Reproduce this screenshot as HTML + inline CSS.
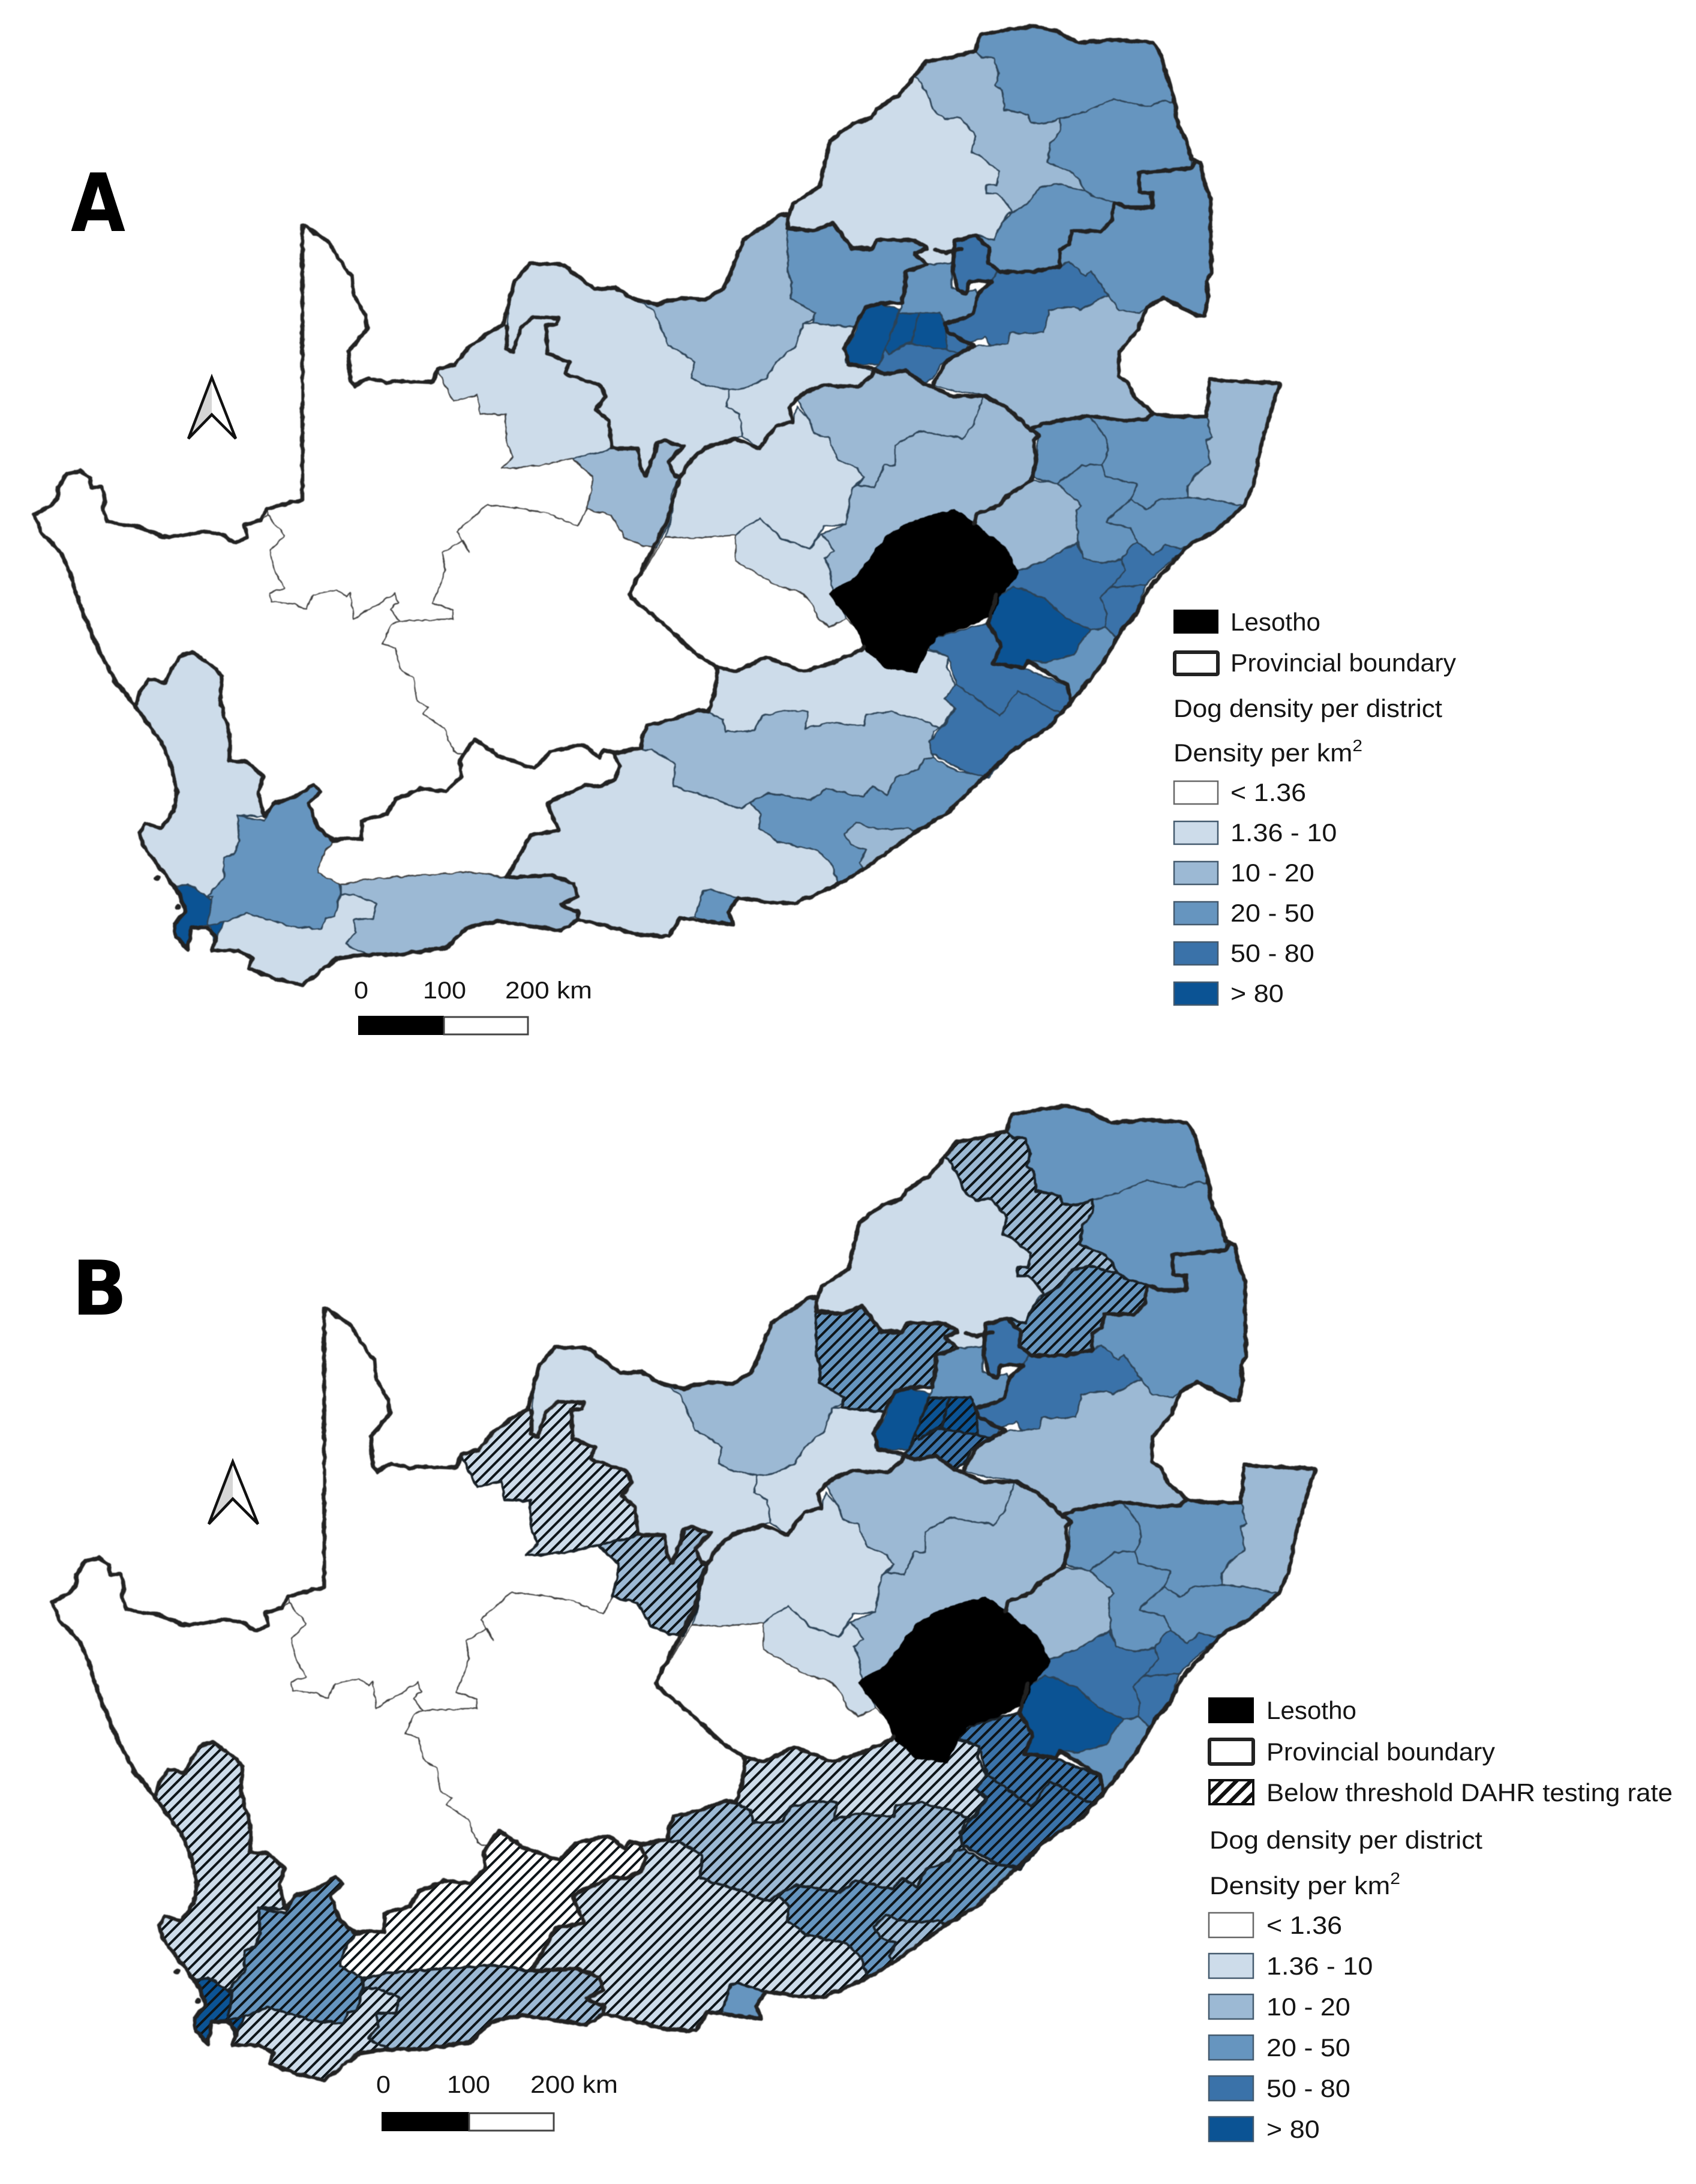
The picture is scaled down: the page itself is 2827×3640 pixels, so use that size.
<!DOCTYPE html>
<html lang="en">
<head>
<meta charset="utf-8">
<title>Dog density per district in South Africa</title>
<style>
html,body{margin:0;padding:0;background:#fff}
svg{display:block}
text{font-family:"Liberation Sans",sans-serif;fill:#151515}
</style>
</head>
<body>
<svg id="figure" xmlns="http://www.w3.org/2000/svg" width="2827" height="3640" viewBox="0 0 2827 3640">
<defs>
<filter id="wiggle" filterUnits="userSpaceOnUse" x="0" y="0" width="2827" height="1800" color-interpolation-filters="sRGB">
<feTurbulence type="fractalNoise" baseFrequency="0.075" numOctaves="2" seed="4" result="n"/>
<feDisplacementMap in="SourceGraphic" in2="n" scale="6" xChannelSelector="R" yChannelSelector="G" result="d"/>
<feGaussianBlur in="d" stdDeviation="0.8"/>
</filter>
<pattern id="hatch" patternUnits="userSpaceOnUse" width="12.8" height="12.8" patternTransform="rotate(45)">
<rect x="0" y="0" width="4" height="12.8" fill="#0d1418"/>
</pattern>
<pattern id="hatch-legend" patternUnits="userSpaceOnUse" width="17" height="17" patternTransform="rotate(45)">
<rect x="0" y="0" width="6.5" height="17" fill="#111"/>
</pattern>
</defs>
<rect width="2827" height="3640" fill="#fff"/>

<text x="118" y="385" font-size="134" font-weight="bold" textLength="91" lengthAdjust="spacingAndGlyphs" style="font-family:'DejaVu Sans',sans-serif;fill:#000">A</text>
<text x="120" y="2191" font-size="126" font-weight="bold" textLength="92" lengthAdjust="spacingAndGlyphs" style="font-family:'DejaVu Sans',sans-serif;fill:#000">B</text>

<g id="panel-a"></g>
<g id="panel-b" transform="matrix(1.014 0 0 1.016 29.3 1799)"></g>

<g>
<path d="M353 629 L353 691 L314 731 Z" fill="#d6d6d6"/>
<path d="M353 629 L393 731 L353 691 L314 731 Z" fill="none" stroke="#111" stroke-width="4.5" stroke-linejoin="miter"/>
</g>
<g>
<path d="M388 2436 L388 2496 L348 2540 Z" fill="#d6d6d6"/>
<path d="M388 2436 L430 2540 L388 2498 L348 2540 Z" fill="none" stroke="#111" stroke-width="4.5"/>
</g>

<g>
<rect x="597" y="1693" width="143" height="32" fill="#000"/>
<rect x="740" y="1695" width="140" height="29" fill="#fff" stroke="#444" stroke-width="3"/>
<text x="590" y="1664" font-size="40" textLength="24" lengthAdjust="spacingAndGlyphs">0</text>
<text x="705" y="1664" font-size="40" textLength="72" lengthAdjust="spacingAndGlyphs">100</text>
<text x="842" y="1664" font-size="40" textLength="145" lengthAdjust="spacingAndGlyphs">200 km</text>
</g>
<g>
<rect x="636" y="3520" width="146" height="32" fill="#000"/>
<rect x="782" y="3522" width="141" height="29" fill="#fff" stroke="#444" stroke-width="3"/>
<text x="627" y="3488" font-size="41" textLength="24" lengthAdjust="spacingAndGlyphs">0</text>
<text x="745" y="3488" font-size="41" textLength="72" lengthAdjust="spacingAndGlyphs">100</text>
<text x="884" y="3488" font-size="41" textLength="146" lengthAdjust="spacingAndGlyphs">200 km</text>
</g>

<g id="legend-a">
<rect x="1956" y="1016" width="75" height="40" fill="#000"/>
<text x="2051" y="1051" font-size="42" textLength="150" lengthAdjust="spacingAndGlyphs">Lesotho</text>
<rect x="1958" y="1087" width="72" height="37" fill="#fff" stroke="#222" stroke-width="6" rx="2"/>
<text x="2051" y="1119" font-size="42" textLength="376" lengthAdjust="spacingAndGlyphs">Provincial boundary</text>
<text x="1956" y="1195" font-size="42" textLength="448" lengthAdjust="spacingAndGlyphs">Dog density per district</text>
<text x="1956" y="1269" font-size="42" textLength="315" lengthAdjust="spacingAndGlyphs">Density per km<tspan dy="-17" font-size="28">2</tspan></text>
</g>
<g id="legend-b">
<rect x="2014" y="2829" width="76" height="43" fill="#000"/>
<text x="2111" y="2865" font-size="42" textLength="150" lengthAdjust="spacingAndGlyphs">Lesotho</text>
<rect x="2016" y="2899" width="73" height="41" fill="#fff" stroke="#222" stroke-width="6" rx="2"/>
<text x="2111" y="2934" font-size="42" textLength="381" lengthAdjust="spacingAndGlyphs">Provincial boundary</text>
<rect x="2016" y="2967" width="73" height="40" fill="#fff" stroke="#111" stroke-width="4"/>
<rect x="2016" y="2967" width="73" height="40" fill="url(#hatch-legend)"/>
<text x="2111" y="3002" font-size="42" textLength="677" lengthAdjust="spacingAndGlyphs">Below threshold DAHR testing rate</text>
<text x="2016" y="3081" font-size="42" textLength="455" lengthAdjust="spacingAndGlyphs">Dog density per district</text>
<text x="2016" y="3157" font-size="42" textLength="318" lengthAdjust="spacingAndGlyphs">Density per km<tspan dy="-17" font-size="28">2</tspan></text>
</g>
</svg>

<script>
// Density classes
const binBreaks = [1.36, 10, 20, 50, 80];
const binColors = ['#ffffff', '#cddcea', '#9cb9d4', '#6695bf', '#3a72a9', '#0b5394'];
const binLabels = ['< 1.36', '1.36 - 10', '10 - 20', '20 - 50', '50 - 80', '> 80'];

// Districts and estimated density per km2 (read from the class colour of each district)
const districtNames = ['vhembe','capricorn','waterberg','mopani','sekhukhune','ehlanzeni','nkangala','nkangala-south','gert-sibande','tshwane','thembisile','bojanala','west-rand','johannesburg','ekurhuleni','sedibeng','kenneth-kaunda','segomotsi-mompati','ngaka-modiri-molema','john-taolo-gaetsewe','frances-baard','namakwa','zf-mgcawu','pixley-ka-seme','west-coast','cape-winelands','cape-town','overberg-strip','overberg','eden','central-karoo','lejweleputswa','fezile-dabi','thabo-mofutsanyana','mangaung','xhariep','joe-gqabi','chris-hani','amathole','buffalo-city','sarah-baartman','nelson-mandela-bay','alfred-nzo','or-tambo','harry-gwala','ugu','umgungundlovu','ethekwini','ilembe','uthukela','amajuba','zululand','umkhanyakude','king-cetshwayo','umzinyathi'];
const densityValues = [30,15,5,30,30,30,60,60,15,30,60,30,90,95,92,60,6,15,6,5,15,0.8,0.9,1,6,30,110,90,6,15,1,6,15,15,6,1,6,15,30,15,6,30,60,60,90,30,60,60,60,15,30,30,15,30,30];
const belowThresholdDistricts = ['capricorn','sekhukhune','bojanala','johannesburg','ekurhuleni','sedibeng','john-taolo-gaetsewe','frances-baard','west-coast','cape-winelands','cape-town','overberg-strip','overberg','eden','central-karoo','joe-gqabi','chris-hani','amathole','buffalo-city','sarah-baartman','alfred-nzo','or-tambo'];

// Map geometry, same order as districtNames
const districtOutlines = [
'1626,84 1634,58 1688,48 1721,43 1759,51 1797,71 1861,66 1922,71 1935,91 1958,168 1955,170 1938,168 1917,178 1856,165 1810,186 1767,198 1744,206 1718,204 1713,191 1675,183 1670,150 1660,142 1665,122 1657,96 1637,96',
'1524,127 1545,102 1586,96 1626,84 1637,96 1657,96 1665,122 1660,142 1670,150 1675,183 1713,191 1718,204 1744,206 1767,198 1767,221 1751,239 1746,270 1790,290 1810,318 1762,306 1733,313 1713,339 1688,354 1672,331 1662,323 1644,323 1644,308 1662,308 1665,285 1631,257 1619,255 1626,227 1601,196 1575,198 1555,183 1550,165 1530,132',
'1313,359 1315,357 1323,339 1366,311 1371,290 1384,234 1422,206 1453,196 1463,181 1499,158 1524,127 1530,132 1550,165 1555,183 1575,198 1601,196 1626,227 1619,255 1631,257 1665,285 1662,308 1644,308 1644,323 1662,323 1672,331 1688,354 1680,357 1670,372 1657,400 1626,392 1591,402 1588,438 1545,441 1524,423 1545,413 1524,400 1463,400 1453,415 1420,413 1389,372 1354,385 1313,380',
'1767,198 1810,186 1856,165 1917,178 1938,168 1955,170 1958,168 1963,209 1978,234 1986,265 1986,280 1899,288 1899,321 1920,321 1920,346 1884,346 1861,339 1820,326 1810,318 1790,290 1746,270 1751,239 1767,221',
'1688,354 1713,339 1733,313 1762,306 1810,318 1820,326 1861,339 1858,339 1853,367 1835,385 1787,385 1782,408 1767,415 1767,443 1723,453 1667,453 1647,438 1649,413 1626,392 1657,400 1670,372',
'1986,280 1986,265 2001,272 2009,306 2018,331 2019,454 2011,469 2014,494 2008,527 1994,525 1940,497 1912,512 1899,522 1866,517 1848,494 1828,464 1818,451 1810,461 1782,436 1767,443 1767,415 1782,408 1787,385 1835,385 1853,367 1858,339 1884,346 1920,346 1920,321 1899,321 1899,288',
'1647,438 1667,453 1723,453 1767,443 1782,436 1810,461 1818,451 1828,464 1848,494 1841,494 1800,517 1790,510 1749,517 1739,555 1683,555 1680,573 1652,576 1642,561 1616,573 1580,553 1575,540 1621,525 1631,489 1652,469',
'1578,555 1616,573 1606,589 1578,594',
'1800,517 1841,494 1848,494 1866,517 1899,522 1912,512 1897,550 1866,586 1864,627 1879,635 1892,663 1922,688 1912,698 1874,701 1815,693 1739,706 1718,716 1688,688 1642,658 1591,652 1555,642 1578,601 1624,576 1652,576 1680,573 1683,555 1739,555 1749,517 1790,510',
'1509,453 1545,441 1586,438 1586,479 1603,489 1626,482 1631,489 1621,525 1575,540 1568,522 1499,522 1504,505 1509,474',
'1591,402 1626,392 1649,413 1647,438 1662,453 1652,469 1616,469 1611,489 1596,484 1588,453',
'1313,382 1354,385 1389,372 1420,413 1453,415 1463,400 1524,400 1545,413 1524,423 1545,441 1509,453 1509,474 1504,505 1468,505 1443,512 1425,545 1392,543 1356,538 1359,522 1318,497 1320,471 1313,453',
'1443,512 1468,505 1499,517 1476,581 1466,607 1415,607 1407,581 1425,555',
'1499,522 1532,522 1519,571 1501,576 1481,591 1476,581',
'1532,522 1568,522 1578,553 1578,584 1519,573',
'1481,591 1501,578 1519,573 1578,584 1606,589 1568,607 1555,632 1540,640 1509,617 1473,624 1456,614 1466,607 1476,581',
'1339,538 1359,538 1390,543 1425,545 1410,581 1410,604 1456,619 1453,627 1430,645 1374,642 1339,655 1316,678 1321,703 1293,711 1265,747 1237,726 1232,691 1211,678 1216,650 1247,645 1277,630 1293,604 1326,576',
'1068,505 1094,507 1135,497 1175,499 1206,482 1221,446 1239,400 1300,359 1313,359 1313,453 1320,471 1318,497 1359,522 1356,533 1339,538 1326,576 1293,604 1277,630 1247,645 1216,650 1175,642 1152,630 1158,604 1140,589 1114,576 1104,550 1089,517',
'845,544 849,500 858,468 884,439 938,441 992,482 1025,479 1053,497 1071,505 1089,517 1104,550 1114,576 1140,589 1158,604 1152,630 1175,642 1216,650 1211,678 1232,691 1237,726 1226,731 1175,747 1152,765 1135,793 1124,793 1114,770 1140,744 1107,734 1094,739 1091,757 1076,793 1068,780 1063,747 1020,747 1015,701 994,683 1010,660 997,640 943,624 948,604 913,589 910,543 928,540 931,530 890,528 868,547 855,586 845,582',
'721,637 731,614 759,608 778,582 810,557 839,541 845,544 845,582 855,586 868,547 890,528 931,530 928,540 910,543 913,589 948,604 943,624 997,640 1010,660 994,683 1015,701 1020,747 954,765 912,774 893,777 836,780 855,761 845,742 842,691 801,690 794,659 756,669 731,621',
'954,765 1020,747 1063,747 1068,780 1076,793 1091,757 1094,739 1107,734 1140,744 1114,770 1124,793 1132,798 1119,823 1119,864 1094,913 1073,910 1040,895 1020,859 979,849 989,795',
'447,860 434,866 408,876 412,895 392,905 373,892 345,885 306,892 271,895 249,885 223,876 201,873 179,870 172,850 175,831 169,812 153,812 150,796 134,785 112,790 96,812 96,831 83,844 56,858 70,889 102,921 118,959 134,1010 160,1074 191,1134 226,1178 233,1152 249,1132 274,1138 300,1094 319,1087 351,1107 370,1125 367,1167 383,1223 383,1268 412,1270 440,1294 431,1321 440,1361 456,1339 491,1328 523,1308 535,1319 514,1339 530,1379 555,1401 574,1397 603,1399 603,1368 644,1357 660,1332 702,1314 743,1319 769,1294 766,1268 791,1232 775,1259 756,1252 740,1214 705,1189 715,1179 695,1169 689,1131 667,1115 660,1080 638,1074 651,1042 667,1035 651,1016 664,1003 657,989 590,1032 584,988 577,994 561,983 523,991 510,1016 491,1007 453,1004 450,988 475,981 456,946 450,917 475,892',
'447,860 447,847 504,833 504,375 530,391 549,404 568,436 587,461 590,493 609,525 612,547 581,586 584,633 590,643 616,630 644,637 676,635 721,637 731,621 756,669 794,659 801,690 842,691 845,742 855,761 836,780 893,777 954,765 989,795 979,849 963,876 906,854 813,841 762,885 781,921 772,901 737,921 743,952 721,1007 756,1016 756,1032 667,1035 651,1016 664,1003 657,989 590,1032 584,988 577,994 561,983 523,991 510,1016 491,1007 453,1004 450,988 475,981 456,946 450,917 475,892',
'667,1035 756,1032 756,1016 721,1007 743,952 737,921 772,901 781,921 762,885 813,841 906,854 963,876 979,849 1020,859 1040,895 1073,910 1094,913 1050,989 1053,997 1104,1038 1155,1086 1193,1111 1196,1120 1191,1153 1181,1186 1163,1184 1122,1199 1079,1209 1069,1230 1069,1247 1023,1255 1005,1250 1000,1263 970,1241 919,1252 890,1281 829,1259 791,1232 775,1259 756,1252 740,1214 705,1189 715,1179 695,1169 689,1131 667,1115 660,1080 638,1074 651,1042',
'226,1178 233,1152 249,1132 274,1138 300,1094 319,1087 351,1107 370,1125 367,1167 383,1223 383,1268 412,1270 440,1294 431,1321 440,1361 396,1359 399,1401 389,1424 373,1430 373,1464 345,1495 313,1473 293,1479 287,1473 262,1441 239,1410 233,1388 242,1372 268,1381 290,1352 295,1321 284,1272 268,1236',
'396,1359 440,1368 456,1339 491,1328 523,1308 535,1319 514,1339 530,1379 555,1401 536,1428 530,1455 565,1473 568,1486 558,1526 542,1531 536,1549 485,1544 412,1522 373,1537 345,1542 354,1495 345,1495 373,1464 373,1430 389,1424 399,1401',
'313,1473 345,1495 354,1500 345,1542 319,1546 313,1582 293,1562 290,1540 309,1520 300,1491 293,1479',
'345,1542 373,1537 357,1571 351,1546',
'373,1537 412,1522 485,1544 536,1549 542,1531 558,1526 568,1491 590,1491 628,1506 622,1531 590,1533 593,1553 577,1573 612,1591 561,1598 504,1642 459,1631 415,1615 421,1598 396,1584 354,1584 357,1571',
'568,1475 606,1466 782,1453 849,1464 919,1459 957,1473 963,1495 935,1508 963,1520 963,1533 935,1551 829,1535 778,1546 743,1580 664,1591 612,1591 577,1573 593,1553 590,1533 622,1531 628,1506 590,1491 568,1491',
'555,1401 574,1397 603,1399 603,1368 644,1357 660,1332 702,1314 743,1319 769,1294 766,1268 791,1232 829,1259 890,1281 919,1252 970,1241 1000,1263 1005,1250 1023,1255 1033,1278 1025,1298 1000,1311 976,1308 912,1339 931,1384 884,1392 845,1462 782,1453 606,1466 568,1475 530,1455 536,1428',
'1135,793 1152,765 1175,747 1226,731 1265,747 1293,711 1321,703 1328,678 1349,701 1356,721 1382,731 1395,765 1428,780 1441,795 1420,813 1410,874 1374,877 1349,915 1303,897 1267,864 1242,879 1226,892 1155,897 1109,895 1119,864 1124,823',
'1328,665 1339,655 1374,642 1430,645 1453,627 1458,614 1473,624 1509,617 1540,640 1553,645 1588,660 1637,660 1637,665 1624,706 1604,731 1532,719 1492,742 1492,775 1474,775 1458,813 1430,808 1441,795 1428,780 1395,765 1382,731 1356,721 1349,701',
'1637,660 1677,678 1718,716 1733,726 1723,734 1727,769 1716,805 1683,823 1665,843 1629,856 1623,872 1591,851 1558,859 1512,874 1479,895 1430,961 1385,989 1385,951 1374,930 1390,918 1369,890 1410,874 1420,813 1430,808 1458,813 1474,775 1492,775 1492,742 1532,719 1604,731 1624,706 1637,665',
'1226,892 1242,879 1267,864 1303,897 1349,915 1369,890 1390,918 1374,930 1385,951 1385,976 1405,1017 1410,1032 1382,1045 1364,1032 1351,1002 1334,987 1293,976 1257,953 1226,935',
'1109,895 1155,897 1226,892 1226,935 1257,953 1293,976 1334,987 1351,1002 1364,1032 1382,1045 1410,1032 1430,1048 1441,1078 1436,1083 1390,1104 1339,1119 1277,1096 1226,1119 1193,1111 1155,1086 1104,1038 1053,997 1050,989',
'1196,1120 1193,1111 1226,1119 1277,1096 1339,1119 1390,1104 1436,1083 1441,1078 1476,1111 1527,1119 1543,1083 1581,1094 1579,1112 1592,1143 1574,1166 1594,1176 1581,1194 1566,1214 1536,1199 1485,1186 1444,1191 1439,1209 1388,1204 1342,1214 1347,1186 1306,1184 1270,1194 1258,1217 1209,1219 1204,1199 1184,1189 1181,1186 1191,1153',
'1079,1209 1122,1199 1163,1184 1184,1189 1204,1199 1209,1219 1258,1217 1270,1194 1306,1184 1347,1186 1342,1214 1388,1204 1439,1209 1444,1191 1485,1186 1536,1199 1566,1214 1556,1219 1551,1240 1556,1263 1541,1265 1530,1283 1492,1296 1479,1324 1454,1311 1439,1329 1377,1314 1352,1334 1280,1321 1250,1337 1235,1349 1184,1329 1122,1311 1125,1273 1087,1250 1071,1250 1069,1230',
'1250,1337 1280,1321 1352,1334 1377,1314 1439,1329 1454,1311 1479,1324 1492,1296 1530,1283 1541,1265 1556,1263 1597,1286 1645,1291 1576,1357 1525,1388 1515,1380 1484,1382 1449,1380 1428,1370 1408,1390 1418,1408 1444,1416 1433,1439 1439,1449 1398,1472 1385,1439 1362,1418 1296,1403 1265,1380 1268,1357',
'1515,1380 1525,1388 1439,1449 1433,1439 1444,1416 1418,1408 1408,1390 1428,1370 1449,1380 1484,1382',
'1069,1247 1071,1250 1087,1250 1125,1273 1122,1311 1184,1329 1235,1349 1250,1337 1268,1357 1265,1380 1296,1403 1362,1418 1385,1439 1398,1472 1326,1505 1296,1505 1230,1497 1184,1482 1173,1484 1158,1528 1133,1530 1115,1561 1066,1558 1000,1541 963,1533 963,1520 935,1508 963,1495 957,1473 919,1459 849,1464 845,1462 884,1392 931,1384 912,1339 976,1308 1000,1311 1025,1298 1033,1278 1023,1255',
'1184,1482 1230,1497 1214,1520 1222,1541 1178,1535 1158,1528 1173,1484',
'1549,1064 1647,1039 1669,1077 1654,1108 1710,1115 1781,1144 1785,1171 1768,1189 1696,1151 1667,1193 1629,1166 1594,1140 1580,1093 1549,1082',
'1594,1140 1629,1166 1667,1193 1696,1151 1768,1189 1745,1215 1692,1247 1647,1296 1607,1285 1554,1256 1549,1236 1571,1211 1594,1180 1574,1166',
'1661,992 1690,977 1741,997 1777,1030 1819,1050 1799,1073 1790,1091 1745,1104 1714,1102 1707,1113 1654,1106 1669,1077 1647,1039',
'1819,1050 1843,1046 1861,1062 1839,1104 1785,1171 1781,1144 1714,1102 1745,1104 1790,1091 1799,1073',
'1696,952 1720,943 1742,934 1764,921 1794,903 1806,930 1834,939 1870,932 1875,952 1852,979 1834,995 1846,1024 1843,1046 1819,1050 1777,1030 1741,997 1690,977 1670,990',
'1852,979 1910,975 1895,1021 1870,1050 1861,1062 1843,1046 1846,1024 1834,995',
'1870,932 1884,912 1895,903 1924,926 1942,908 1968,914 1982,908 1937,948 1910,975 1852,979 1875,952',
'1620,885 1629,859 1665,843 1683,823 1719,801 1763,805 1785,827 1803,843 1794,850 1797,903 1764,921 1742,934 1720,943 1696,952 1670,930',
'1730,729 1718,716 1739,706 1815,693 1826,705 1846,734 1848,752 1837,774 1803,776 1785,790 1763,805 1727,798 1719,792 1727,769',
'1826,705 1815,693 1874,701 1912,698 1922,688 1948,694 2011,694 2020,729 2011,734 2017,772 1995,790 1979,810 1979,830 1933,834 1910,850 1886,832 1895,807 1843,794 1837,774 1848,752 1846,734',
'2011,694 2017,633 2133,639 2104,734 2089,810 2073,843 2017,832 1979,830 1979,810 1995,790 2017,772 2011,734 2020,729',
'1886,832 1910,850 1933,834 1979,830 2017,832 2073,843 2026,885 1982,908 1968,914 1942,908 1924,926 1895,903 1884,881 1843,870 1866,848',
'1763,805 1785,790 1803,776 1837,774 1843,794 1895,807 1886,832 1866,848 1843,870 1884,881 1895,903 1884,912 1870,932 1834,939 1806,930 1797,903 1794,850 1803,843 1785,827'
];
const lesothoOutline = '1385,989 1430,961 1479,895 1512,874 1558,859 1591,851 1624,874 1675,915 1696,956 1665,992 1655,1022 1614,1043 1563,1058 1543,1083 1527,1119 1476,1111 1441,1078 1430,1048 1405,1017';
const countryOutline = '1315,357 1323,339 1366,311 1371,290 1384,234 1422,206 1453,196 1463,181 1499,158 1524,127 1545,102 1586,96 1626,84 1634,58 1688,48 1721,43 1759,51 1797,71 1861,66 1922,71 1935,91 1958,168 1963,209 1978,234 1986,265 2001,272 2009,306 2018,331 2019,454 2011,469 2014,494 2008,527 1994,525 1940,497 1912,512 1897,550 1866,586 1864,627 1879,635 1892,663 1922,688 1948,694 2011,694 2017,633 2133,639 2104,734 2089,810 2073,843 2026,885 1982,908 1915,979 1895,1021 1870,1050 1839,1104 1785,1171 1745,1215 1692,1247 1645,1291 1576,1357 1525,1388 1439,1449 1398,1474 1326,1505 1296,1505 1230,1497 1214,1520 1222,1541 1178,1535 1133,1530 1115,1561 1066,1558 1000,1541 963,1533 935,1551 829,1535 778,1546 743,1580 664,1591 612,1591 561,1598 504,1642 459,1631 415,1615 421,1598 396,1584 354,1584 360,1562 345,1546 319,1546 313,1582 293,1562 290,1540 309,1520 300,1491 287,1473 262,1441 239,1410 233,1388 242,1372 268,1381 290,1352 295,1321 284,1272 268,1236 226,1178 191,1134 160,1074 134,1010 118,959 102,921 70,889 56,858 83,844 96,831 96,812 112,790 134,785 150,796 153,812 169,812 175,831 172,850 179,870 201,873 223,876 249,885 271,895 306,892 345,885 373,892 392,905 412,895 408,876 434,866 447,847 504,833 504,375 530,391 549,404 568,436 587,461 590,493 609,525 612,547 581,586 584,633 590,643 616,630 644,637 676,635 721,637 731,614 759,608 778,582 810,557 839,541 849,500 858,468 884,439 938,441 992,482 1025,479 1053,497 1094,507 1135,497 1175,499 1206,482 1221,446 1239,400 1300,359';
const provinceLines = [
'845,544 845,582 855,586 868,547 890,528 931,530 928,540 910,543 913,589 948,604 943,624 997,640 1010,660 994,683 1015,701 1020,747 1063,747 1068,780 1076,793 1091,757 1094,739 1107,734 1140,744 1114,770 1124,793 1135,793',
'1135,793 1152,765 1175,747 1226,731 1265,747 1293,711 1321,703 1316,678 1339,655 1374,642 1430,645 1453,627 1458,614 1473,624 1509,617 1540,640 1553,645 1588,660 1640,660 1677,678 1718,716 1733,726 1723,734 1727,769 1719,801 1683,823 1665,843 1629,856 1623,872',
'1441,1078 1436,1083 1390,1104 1339,1119 1277,1096 1226,1119 1193,1111 1155,1086 1104,1038 1053,997 1050,989 1114,864 1124,823 1135,793',
'1193,1111 1196,1120 1191,1153 1181,1186 1163,1184 1122,1199 1079,1209 1069,1230 1069,1247 1023,1255 1033,1278 1025,1298 1000,1311 976,1308 912,1339 931,1384 884,1392 845,1462',
'226,1178 233,1152 249,1132 274,1138 300,1094 319,1087 351,1107 370,1125 367,1167 383,1223 383,1268 412,1270 440,1294 431,1321 440,1361 456,1339 491,1328 523,1308 535,1319 514,1339 530,1379 555,1401 574,1397 603,1399 603,1368 644,1357 660,1332 702,1314 743,1319 769,1294 766,1268 791,1232 829,1259 890,1281 919,1252 970,1241 1000,1263 1005,1250 1023,1255',
'845,1462 919,1459 957,1473 963,1495 935,1508 963,1520 963,1533',
'1313,359 1313,380 1354,385 1389,372 1420,413 1453,415 1463,400 1524,400 1545,413 1524,423 1545,441 1509,453 1509,474 1504,505 1468,505 1443,512 1425,545 1407,581 1415,607 1456,614',
'1555,642 1578,601 1624,576 1616,573 1580,553 1575,540 1621,525 1631,489 1652,469 1616,469 1611,489 1596,484 1588,453 1591,402 1626,392 1649,413 1647,438 1667,453 1723,453 1767,443 1767,415 1782,408 1787,385 1835,385 1853,367 1858,339 1884,346 1920,346 1920,321 1899,321 1899,288 1986,280 1990,272',
'1560,416 1575,422 1603,414',
'1718,716 1739,706 1815,693 1874,701 1912,698 1922,688',
'1661,992 1647,1039 1669,1077 1654,1106 1707,1113 1714,1102 1779,1142 1785,1171',
'2011,694 2017,633'
];
const coastIslands = ['262,1464', '297,1511'];

// Legend rows for both panels: [swatch x, first swatch y, swatch w, swatch h, row step, label x, first baseline, font size, label x-scale]
const legendLayouts = {
  'legend-a': [1956, 1301, 75, 40, 67, 2051, 1335, 42, 1.07],
  'legend-b': [2014, 3187, 76, 43, 68, 2111, 3223, 42, 1.07]
};

const SVG_NS = 'http://www.w3.org/2000/svg';

function classIndex(value) {
  let i = 0;
  while (i < binBreaks.length && value >= binBreaks[i]) i++;
  return i;
}

function drawPanel(panelId, showThreshold, panelLetter) {
  const panel = document.getElementById(panelId);

  const fills = document.createElementNS(SVG_NS, 'g');
  
  
  fills.setAttribute('filter', 'url(#wiggle)');
  panel.appendChild(fills);

  const hatches = document.createElementNS(SVG_NS, 'g');
  
  
  panel.appendChild(hatches);

  const borders = document.createElementNS(SVG_NS, 'g');
  
  
  borders.setAttribute('filter', 'url(#wiggle)');
  panel.appendChild(borders);

  districtNames.forEach(function (name, i) {
    const cls = classIndex(densityValues[i]);
    const poly = document.createElementNS(SVG_NS, 'polygon');
    poly.setAttribute('points', districtOutlines[i]);
    poly.setAttribute('fill', binColors[cls]);
    poly.setAttribute('stroke', cls === 0 ? '#3a3a3a' : '#2b4256');
    poly.setAttribute('stroke-width', cls === 0 ? '2' : '2.6');
    poly.setAttribute('stroke-linejoin', 'round');
    
    
    fills.appendChild(poly);

    if (showThreshold && belowThresholdDistricts.indexOf(name) >= 0) {
      const h = document.createElementNS(SVG_NS, 'polygon');
      h.setAttribute('points', districtOutlines[i]);
      h.setAttribute('fill', 'url(#hatch)');
      
      
      hatches.appendChild(h);

      const edge = document.createElementNS(SVG_NS, 'polygon');
      edge.setAttribute('points', districtOutlines[i]);
      edge.setAttribute('fill', 'none');
      edge.setAttribute('stroke', '#1a2228');
      edge.setAttribute('stroke-width', '4');
      edge.setAttribute('stroke-linejoin', 'round');
      
      
      borders.appendChild(edge);
    }
  });

  const lesotho = document.createElementNS(SVG_NS, 'polygon');
  lesotho.setAttribute('points', lesothoOutline);
  lesotho.setAttribute('fill', '#000');
  lesotho.setAttribute('stroke', '#000');
  lesotho.setAttribute('stroke-width', '5');
  lesotho.setAttribute('stroke-linejoin', 'round');
  
  
  borders.appendChild(lesotho);

  provinceLines.forEach(function (pts) {
    const line = document.createElementNS(SVG_NS, 'polyline');
    line.setAttribute('points', pts);
    line.setAttribute('fill', 'none');
    line.setAttribute('stroke', '#222');
    line.setAttribute('stroke-width', '6.5');
    line.setAttribute('stroke-linejoin', 'round');
    line.setAttribute('stroke-linecap', 'round');
    
    
    borders.appendChild(line);
  });

  const coast = document.createElementNS(SVG_NS, 'polygon');
  coast.setAttribute('points', countryOutline);
  coast.setAttribute('fill', 'none');
  coast.setAttribute('stroke', '#222');
  coast.setAttribute('stroke-width', '6.5');
  coast.setAttribute('stroke-linejoin', 'round');
  
  
  borders.appendChild(coast);

  coastIslands.forEach(function (p) {
    const xy = p.split(',');
    const dot = document.createElementNS(SVG_NS, 'circle');
    dot.setAttribute('cx', xy[0]);
    dot.setAttribute('cy', xy[1]);
    dot.setAttribute('r', '4.5');
    dot.setAttribute('fill', '#222');
    
    
    borders.appendChild(dot);
  });
}

function drawLegend(legendId) {
  const group = document.getElementById(legendId);
  const L = legendLayouts[legendId];
  binLabels.forEach(function (label, i) {
    const rect = document.createElementNS(SVG_NS, 'rect');
    rect.setAttribute('x', L[0] + 1);
    rect.setAttribute('y', L[1] + i * L[4] + 1);
    rect.setAttribute('width', L[2] - 2);
    rect.setAttribute('height', L[3] - 2);
    rect.setAttribute('fill', binColors[i]);
    rect.setAttribute('stroke', i === 0 ? '#666' : '#445a6e');
    rect.setAttribute('stroke-width', '2.5');
    
    
    group.appendChild(rect);

    const t = document.createElementNS(SVG_NS, 'text');
    t.setAttribute('transform', 'translate(' + L[5] + ',' + (L[6] + i * L[4]) + ') scale(' + L[8] + ',1)');
    t.setAttribute('font-size', L[7]);
    t.textContent = label;
    
    
    group.appendChild(t);
  });
}

drawPanel('panel-a', false, 'a');
drawPanel('panel-b', true, 'b');
drawLegend('legend-a');
drawLegend('legend-b');
</script>
</body>
</html>
